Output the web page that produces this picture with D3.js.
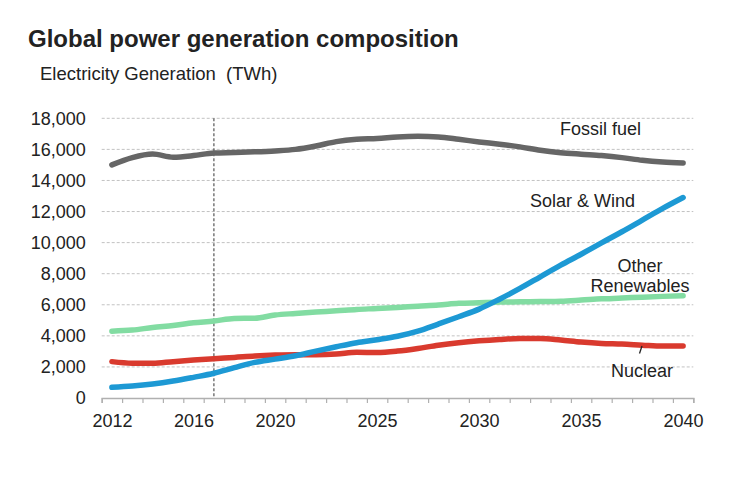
<!DOCTYPE html>
<html><head><meta charset="utf-8">
<script src="https://cdn.jsdelivr.net/npm/d3@7"></script>
<style>
html,body{margin:0;padding:0;background:#fff;}
svg{display:block;font-family:"Liberation Sans",Arial,sans-serif;}
</style></head>
<body>
<svg id="chart" width="750" height="494"></svg>
<script>
const years = d3.range(2012, 2041);
const fossil = [15000,15470,15700,15500,15600,15770,15800,15840,15900,16000,16220,16500,16650,16700,16800,16840,16800,16650,16480,16330,16160,15940,15790,15690,15600,15470,15300,15190,15130];
const solarWind = [690,770,900,1090,1330,1590,1950,2290,2500,2720,3020,3300,3560,3750,3970,4300,4760,5230,5720,6360,7050,7800,8550,9250,9980,10700,11450,12200,12900];
const otherRen = [4300,4370,4540,4670,4840,4950,5120,5130,5340,5440,5530,5610,5700,5760,5830,5910,5980,6090,6130,6170,6190,6210,6230,6300,6380,6430,6490,6540,6580];
const nuclear = [2340,2240,2230,2340,2440,2530,2610,2700,2760,2790,2790,2830,2940,2930,3020,3190,3400,3560,3680,3770,3830,3830,3730,3600,3510,3470,3400,3340,3340];
const yTicks = [0,2000,4000,6000,8000,10000,12000,14000,16000,18000];
const xLabelYears = [2012,2016,2020,2025,2030,2035,2040];
const markerYear = 2017;
const seriesNames = ["Fossil fuel","Solar & Wind","Other Renewables","Nuclear"];

(function(){
const svg = d3.select("#chart");
const pLeft = 101.7, pRight = 693.3, pTop = 118.3, pBottom = 398;
const x = d3.scaleLinear().domain([2011.5, 2040.5]).range([pLeft, pRight]);
const y = d3.scaleLinear().domain([0, 18000]).range([pBottom, pTop]);

// title
svg.append("text").attr("x", 28).attr("y", 47)
  .attr("font-size", 24).attr("font-weight", "bold").attr("fill", "#222")
  .text("Global power generation composition");
svg.append("text").attr("x", 40).attr("y", 80)
  .attr("font-size", 18.5).attr("fill", "#222")
  .style("white-space","pre")
  .text("Electricity Generation  (TWh)");

// gridlines
svg.append("g").selectAll("line").data(yTicks.filter(d => d > 0)).join("line")
  .attr("x1", pLeft).attr("x2", pRight)
  .attr("y1", d => y(d)).attr("y2", d => y(d))
  .attr("stroke", "#c2c2c2").attr("stroke-width", 1).attr("stroke-dasharray", "3,2");

// y axis labels
const yAxis = svg.append("g").attr("transform", `translate(${pLeft},0)`)
  .call(d3.axisLeft(y).tickValues(yTicks).tickSize(0).tickPadding(16).tickFormat(d3.format(",")));
yAxis.select(".domain").remove();
yAxis.selectAll("text").attr("font-size", 18).attr("fill", "#222").attr("font-family", "Liberation Sans, Arial, sans-serif");

// x axis (ticks at category boundaries)
const boundaries = d3.range(2011.5, 2041, 1);
const xAxisTicks = svg.append("g").attr("transform", `translate(0,${pBottom})`)
  .call(d3.axisBottom(x).tickValues(boundaries).tickSize(5).tickFormat(""));
xAxisTicks.select(".domain").attr("stroke", "#b0b0b0").attr("stroke-width", 1.5);
xAxisTicks.selectAll(".tick line").attr("stroke", "#b0b0b0").attr("stroke-width", 1.2);

const xAxisLabels = svg.append("g").attr("transform", `translate(0,${pBottom})`)
  .call(d3.axisBottom(x).tickValues(xLabelYears).tickSize(0).tickPadding(16).tickFormat(d3.format("d")));
xAxisLabels.select(".domain").remove();
xAxisLabels.selectAll("text").attr("font-size", 18).attr("fill", "#222").attr("font-family", "Liberation Sans, Arial, sans-serif");

// vertical dashed marker
svg.append("line")
  .attr("x1", x(markerYear)).attr("x2", x(markerYear))
  .attr("y1", pTop).attr("y2", pBottom)
  .attr("stroke", "#555").attr("stroke-width", 1.2).attr("stroke-dasharray", "3,2");

// lines
const series = [
  {name: seriesNames[0], values: fossil, color: "#666666"},
  {name: seriesNames[1], values: solarWind, color: "#1d99d4"},
  {name: seriesNames[2], values: otherRen, color: "#82dca2"},
  {name: seriesNames[3], values: nuclear, color: "#d93a2e"}
];
const line = d3.line().x((d, i) => x(years[i])).y(d => y(d)).curve(d3.curveMonotoneX);
const order = [2, 3, 1, 0];
svg.append("g").selectAll("path").data(order.map(i => series[i])).join("path")
  .attr("d", d => line(d.values))
  .attr("fill", "none").attr("stroke", d => d.color)
  .attr("stroke-width", 5.5).attr("stroke-linecap", "round").attr("stroke-linejoin", "round");

// labels
const lab = svg.append("g").attr("font-size", 18).attr("fill", "#222");
lab.append("text").attr("x", 560).attr("y", 135).text("Fossil fuel");
lab.append("text").attr("x", 530).attr("y", 207).text("Solar & Wind");
lab.append("text").attr("x", 640).attr("y", 272).attr("text-anchor", "middle").text("Other");
lab.append("text").attr("x", 640).attr("y", 292).attr("text-anchor", "middle").text("Renewables");
lab.append("text").attr("x", 642).attr("y", 377).attr("text-anchor", "middle").text("Nuclear");
svg.append("line").attr("x1", 639.5).attr("y1", 353.5).attr("x2", 642).attr("y2", 346)
  .attr("stroke", "#222").attr("stroke-width", 1.3);
})();
</script>
</body></html>
